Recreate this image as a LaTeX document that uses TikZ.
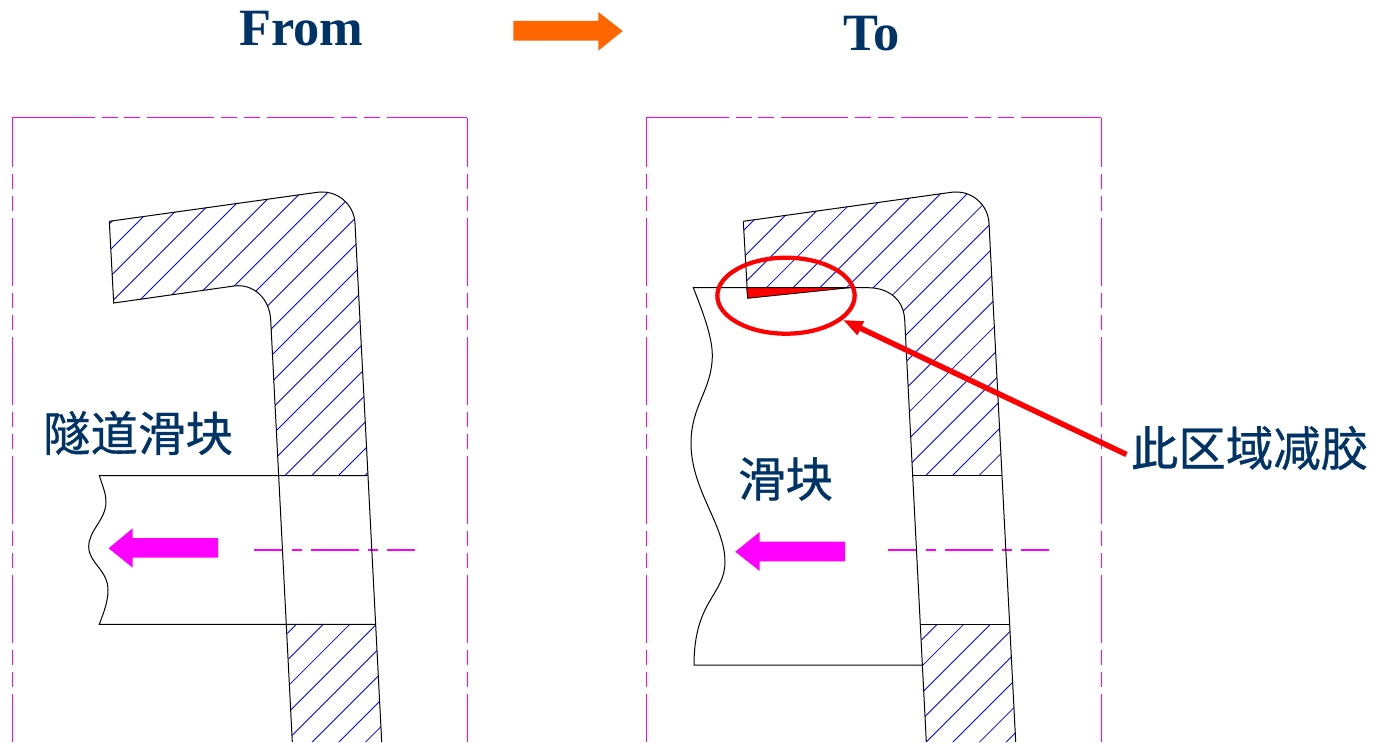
\documentclass[tikz,border=0pt]{standalone}
\usepackage{fontspec}
\setmainfont{Liberation Serif}
\newfontfamily\cjkfont[FakeBold=0.7]{Noto Sans CJK SC}
\usetikzlibrary{shapes.geometric,arrows.meta}
\definecolor{navy}{RGB}{0,51,102}
\definecolor{orangearrow}{RGB}{255,102,0}
\definecolor{framemag}{RGB}{255,0,255}
\newcommand{\titlefont}[1]{\fontsize{#1}{#1}\selectfont\bfseries}
\newcommand{\sidedashes}{%
  \draw[framevert] (12.3,117.5) -- (12.3,742);
  \draw[framevert] (467.3,117.5) -- (467.3,742);
  \draw[frameline] (12.3,117.5) -- (95,117.5) (102,117.5) -- (118,117.5) (124,117.5) -- (140,117.5)
    (146.7,117.5) -- (214,117.5) (221,117.5) -- (237,117.5) (244,117.5) -- (260,117.5)
    (267,117.5) -- (334,117.5) (341,117.5) -- (357,117.5) (364,117.5) -- (380,117.5)
    (387,117.5) -- (467.3,117.5);
  \draw[centerdash] (254.3,550) -- (415,550);
}
\tikzset{
  frameline/.style={draw=framemag,line width=0.9pt},
  framevert/.style={frameline,dash pattern=on 50.5pt off 5.25pt on 11.5pt off 5.25pt on 11.5pt off 5.25pt,dash phase=13.7pt},
  centerdash/.style={frameline,dash pattern=on 36pt off 6.75pt on 7.5pt off 6.75pt,dash phase=14.6pt},
  outline/.style={draw=black,line width=0.75pt},
  hatchline/.style={draw={rgb,255:red,0;green,0;blue,255},line width=0.65pt},
  cjklabel/.style={text=navy,inner sep=0pt,font=\cjkfont\fontsize{35.6pt}{36pt}\selectfont},
  blockmag/.style={fill=framemag,draw=none},
  blockorange/.style={fill=orangearrow,draw=none},
  redzone/.style={draw=red,line width=3.2pt,ellipse,inner sep=0pt,minimum width=103pt,minimum height=57pt},
  redarrow/.style={draw=red,line width=4.1pt,-{Triangle[length=15pt,width=10.5pt]}}
}
\begin{document}
\begin{tikzpicture}[x=0.75pt,y=-0.75pt]
\useasboundingbox (0,0) rectangle (1380,742);
\fill[white] (0,0) rectangle (1380,742);

% Titles
\node[anchor=base west,inner sep=0pt,text=navy,font=\titlefont{39.3pt}] (from) at (239,45.7) {From};
\node[anchor=base west,inner sep=0pt,text=navy,font=\titlefont{39.3pt}] (to) at (843,50.7) {To};
\fill[blockorange] (513.3,21) -- (598.3,21) -- (598.3,12) -- (622.7,31) -- (598.3,50.7) -- (598.3,40.7) -- (513.3,40.7) -- cycle;

% Frames
\sidedashes
\begin{scope}[shift={(634,0)}]
\sidedashes
\end{scope}

% Left hatching
\begin{scope}
\clip (109.3,221.3) -- (317.3,192.3) .. controls (337,189.6) and (354,204) .. (355,223.3)
  -- (367.7,475.3) -- (278.7,475.3) -- (270.7,320) .. controls (269.6,298) and (253,283.4) .. (234,286)
  -- (113.7,303) -- cycle
  (287,624.3) -- (375.3,624.3) -- (382,742) -- (292.3,742) -- cycle;
\foreach \k in {0,...,30}{
  \pgfmathsetmacro\s{333.3+26.7*\k}
  \draw[hatchline] (\s-150,150) -- (\s-750,750);
}
\end{scope}

% Left part outline
\draw[outline] (109.3,221.3) -- (317.3,192.3) .. controls (337,189.6) and (354,204) .. (355,223.3)
  -- (381.7,742);
\draw[outline] (109.3,221.3) -- (113.7,303) -- (234,286) .. controls (253,283.4) and (269.6,298) .. (270.7,320)
  -- (292.3,742);
\draw[outline] (367.7,475.5) -- (99.3,475.5)
  .. controls (103,487) and (106,494) .. (106,501.7)
  .. controls (106,520) and (88.7,530) .. (88.7,546.7)
  .. controls (88.7,563) and (108,570) .. (108,590)
  .. controls (108,603) and (103,614) .. (99.3,624.3)
  -- (375.3,624.3);

% Right hatching
\begin{scope}
\clip (743.3,221.3) -- (951.3,192.3) .. controls (971,189.6) and (988,204) .. (989,223.3)
  -- (1001.7,475.3) -- (912.7,475.3) -- (904.7,320) .. controls (903.6,298) and (887,287.7) .. (868,287.7)
  -- (746.7,287.7) -- cycle
  (921,624.3) -- (1009.3,624.3) -- (1016,742) -- (926.3,742) -- cycle;
\foreach \k in {0,...,30}{
  \pgfmathsetmacro\s{974+26.7*\k}
  \draw[hatchline] (\s-150,150) -- (\s-750,750);
}
\end{scope}

% Right part outline
\draw[outline] (743.3,221.3) -- (951.3,192.3) .. controls (971,189.6) and (988,204) .. (989,223.3)
  -- (1015.7,742);
\draw[outline] (743.3,221.3) -- (747.7,298.3);
\draw[outline] (868,287.7) .. controls (887,287.7) and (903.6,298) .. (904.7,320) -- (926.3,742);
\draw[outline] (912.7,475.5) -- (1001.7,475.5);
\draw[outline] (921,624.3) -- (1009.3,624.3);
% right slider
\draw[outline] (868,287.7) -- (693.3,287.7)
  .. controls (700,305) and (712.3,335) .. (712.3,355)
  .. controls (712.3,390) and (691,405) .. (691,443.3)
  .. controls (691,490) and (725,525) .. (725,561.7)
  .. controls (725,595) and (694,600) .. (694,665)
  -- (922.3,665);

% Red wedge
\filldraw[fill=red,draw=black,line width=0.6pt] (746.7,287.7) -- (850,287.7) -- (747.7,298.3) -- cycle;

% Magenta block arrows
\fill[blockmag] (108.7,548.3) -- (132.7,528.3) -- (132.7,538) -- (218,538) -- (218,557.7) -- (132.7,557.7) -- (132.7,567.7) -- cycle;
\fill[blockmag] (735.3,551.7) -- (759.7,532) -- (759.7,541.7) -- (845,541.7) -- (845,561.3) -- (759.7,561.3) -- (759.7,571) -- cycle;

% Labels
\node[cjklabel] (tunnel) at (138,433) {隧道滑块};
\node[cjklabel] (slider) at (785.5,479) {滑块};
\node[cjklabel] (region) at (1249.5,448) {此区域减胶};

% Red callout
\node[redzone] (zone) at (786,295.7) {};
\coordinate (rtail) at (1126.5,454.5);
\draw[redarrow] (rtail) -- (zone.-23.5);
\end{tikzpicture}
\end{document}
